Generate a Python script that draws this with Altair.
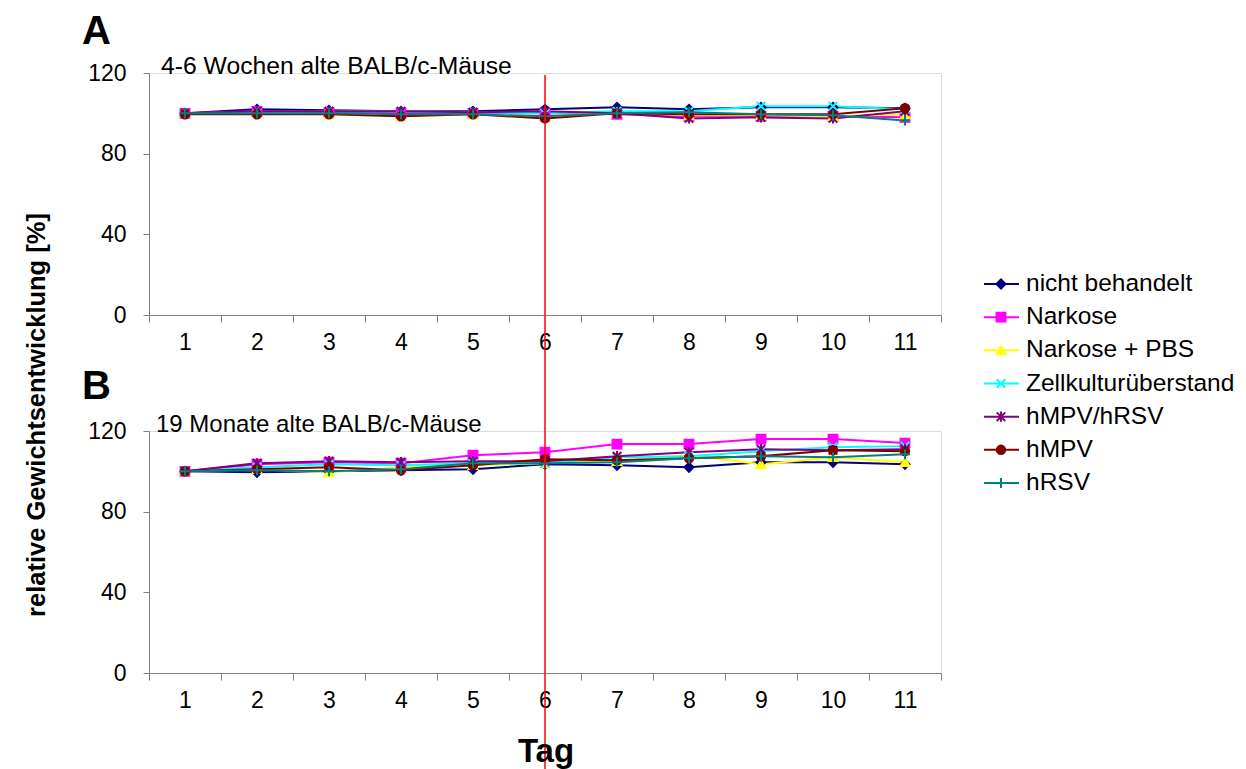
import altair as alt
import pandas as pd

# Körpergewicht relativ zu Tag 1 (%), je Behandlungsgruppe
tage = list(range(1, 12))
gruppen = ["nicht behandelt", "Narkose", "Narkose + PBS", "Zellkulturüberstand",
           "hMPV/hRSV", "hMPV", "hRSV"]
farben = ["#000080", "#FF00FF", "#FFFF00", "#00FFFF", "#800080", "#800000", "#008080"]
formen = ["diamond", "square", "triangle-up",
          "M-1,-1L1,1M-1,1L1,-1",
          "M-1,-1L1,1M-1,1L1,-1M0,-1.2L0,1.2",
          "circle",
          "M-1.2,0L1.2,0M0,-1.2L0,1.2"]
groessen = [80, 70, 80, 64, 64, 120, 80]

# A: 4-6 Wochen alte Mäuse
a_nicht_behandelt = [100, 102, 101.5, 101, 101, 102, 103, 102, 103, 103, 102.5]
a_narkose = [100, 101, 100.5, 100, 100, 100, 99.5, 98.5, 98.5, 98.5, 98]
a_narkose_pbs = [100, 100, 99.5, 98.5, 99.5, 98.5, 100.5, 99, 99, 98.5, 99.5]
a_zellkultur = [100, 100.5, 101, 101, 100.5, 100, 101, 101, 103.5, 103.5, 102]
a_hmpv_hrsv = [100, 101, 101, 101, 100.5, 101, 100, 97.5, 98, 97.5, 101]
a_hmpv = [99.5, 99.5, 99.5, 98.5, 99.5, 97.5, 100, 99.5, 99.5, 99.5, 102.5]
a_hrsv = [100, 100, 100, 99.5, 99.5, 98.5, 100, 100.5, 99.5, 99, 96.5]

# B: 19 Monate alte Mäuse
b_nicht_behandelt = [100, 99.5, 100, 100.5, 101, 103.5, 103, 102, 104.5, 104.5, 103.5]
b_narkose = [100, 103.5, 104.5, 104, 108, 109.5, 113.5, 113.5, 116, 116, 114]
b_narkose_pbs = [100, 101, 99.5, 102, 103, 104, 105, 108, 103.5, 107, 104.5]
b_zellkultur = [100, 102, 103.5, 103, 104, 104, 107, 107.5, 110, 112, 112.5]
b_hmpv_hrsv = [100, 104, 105, 104.5, 105, 105, 107.5, 109.5, 111, 110.5, 111]
b_hmpv = [100, 101, 102, 100.5, 103, 106, 105.5, 106.5, 107.5, 110.5, 110]
b_hrsv = [100, 100.5, 100, 101, 104, 104, 104.5, 106.5, 107.5, 107, 108.5]

serien_a = [a_nicht_behandelt, a_narkose, a_narkose_pbs, a_zellkultur, a_hmpv_hrsv, a_hmpv, a_hrsv]
serien_b = [b_nicht_behandelt, b_narkose, b_narkose_pbs, b_zellkultur, b_hmpv_hrsv, b_hmpv, b_hrsv]


def lang(serien):
    rows = []
    for i, (name, werte) in enumerate(zip(gruppen, serien)):
        for t, w in zip(tage, werte):
            rows.append({"Tag": t, "Wert": w, "Gruppe": name, "ord": i})
    return pd.DataFrame(rows)


FONT = "Liberation Sans"
W, H = 792, 242

farbe = alt.Color("Gruppe:N", scale=alt.Scale(domain=gruppen, range=farben), legend=None)
rand = alt.Stroke("Gruppe:N", scale=alt.Scale(domain=gruppen, range=farben), legend=None)
form = alt.Shape("Gruppe:N", scale=alt.Scale(domain=gruppen, range=formen), legend=None)
groesse = alt.Size("Gruppe:N", scale=alt.Scale(domain=gruppen, range=groessen), legend=None)

x_scale = alt.Scale(type="band", paddingInner=0, paddingOuter=0)
x_axis = alt.Axis(title=None, tickBand="extent", labelAngle=0, tickSize=7,
                  labelPadding=9, labelFontSize=23, labelFont=FONT,
                  labelColor="black", domainColor="#808080", tickColor="#808080",
                  grid=False)
x_enc = alt.X("Tag:O", bandPosition=0.5, scale=x_scale, axis=x_axis)
y_scale = alt.Scale(domain=[0, 120], nice=False, zero=True)
y_axis = alt.Axis(title=None, values=[0, 40, 80, 120], tickSize=6, labelPadding=17,
                  labelFontSize=23, labelFont=FONT, labelColor="black",
                  domainColor="#808080", tickColor="#808080", grid=False)


def panel(df, untertitel, buchstabe, extra=None):
    base = alt.Chart(df)
    linien = base.mark_line(strokeWidth=2).encode(
        x=x_enc,
        y=alt.Y("Wert:Q", scale=y_scale, axis=y_axis),
        color=farbe,
        detail="Gruppe:N",
        order="Tag:O",
    )
    punkte = base.mark_point(filled=True, opacity=1, strokeWidth=2).encode(
        x=x_enc,
        y=alt.Y("Wert:Q", scale=y_scale, axis=None),
        color=farbe,
        stroke=rand,
        shape=form,
        size=groesse,
        order="ord:Q",
    )
    titel = alt.Chart().mark_text(font=FONT, fontSize=untertitel[3], align="left",
                                  baseline="alphabetic", color="black").encode(
        x=alt.value(untertitel[1]), y=alt.value(untertitel[2]), text=alt.value(untertitel[0]))
    buch = alt.Chart().mark_text(font=FONT, fontSize=40, fontWeight="bold", align="left",
                                 baseline="alphabetic", color="black").encode(
        x=alt.value(buchstabe[1]), y=alt.value(buchstabe[2]), text=alt.value(buchstabe[0]))
    schichten = [linien, punkte, titel, buch] + (extra or [])
    return alt.layer(*schichten).resolve_scale(y="independent").properties(width=W, height=H)


# Ausrichtung der Gesamtgrafik (weiße Marke in der oberen linken Ecke)
anker = alt.Chart().mark_rule(color="white", strokeWidth=0.5).encode(
    x=alt.value(-147.75), x2=alt.value(-147.25), y=alt.value(-71.75))

y_titel = alt.Chart().mark_text(font=FONT, fontSize=25.5, fontWeight="bold", angle=270,
                                align="center", baseline="middle", color="black").encode(
    x=alt.value(-112), y=alt.value(342), text=alt.value("relative Gewichtsentwicklung [%]"))

panel_a = panel(lang(serien_a), ("4-6 Wochen alte BALB/c-Mäuse", 12, 1, 24.7), ("A", -67, -29),
                [anker, y_titel])

# Tag 6: senkrechte Markierung über beide Diagramme
markierung = alt.Chart().mark_rule(color="#FF0000", strokeWidth=1.5).encode(
    x=alt.XDatum(6, type="ordinal", bandPosition=0.5, scale=x_scale, axis=x_axis),
    y=alt.value(-356), y2=alt.value(345))

x_titel = alt.Chart().mark_text(font=FONT, fontSize=33, fontWeight="bold", align="center",
                                baseline="alphabetic", color="black").encode(
    x=alt.value(397), y=alt.value(331), text=alt.value("Tag"))

# Legende rechts neben den Diagrammen
leg_df = pd.DataFrame({"Gruppe": gruppen, "ord": list(range(len(gruppen)))})
leg_y = alt.Y("Gruppe:N", sort=gruppen,
              scale=alt.Scale(type="point", domain=gruppen, range=[-147, 52], padding=0),
              axis=None)
leg_base = alt.Chart(leg_df)
leg_linie = leg_base.mark_rule(strokeWidth=2).encode(
    x=alt.value(835), x2=alt.value(870), y=leg_y, color=farbe)
leg_punkt = leg_base.mark_point(filled=True, opacity=1, strokeWidth=2).encode(
    x=alt.value(852), y=leg_y, color=farbe, stroke=rand, shape=form, size=groesse)
leg_text = leg_base.mark_text(font=FONT, fontSize=24.5, align="left", baseline="middle",
                              color="black").encode(
    x=alt.value(877), y=leg_y, text="Gruppe:N")

panel_b = panel(lang(serien_b), ("19 Monate alte BALB/c-Mäuse", 7, 1, 24), ("B", -67, -32),
                [markierung, x_titel, leg_linie, leg_punkt, leg_text])

chart = alt.vconcat(panel_a, panel_b, spacing=116, bounds="flush").properties(
    padding=0
).configure_view(stroke=None).configure(background="white")

chart.save("out.html", embed_options={"renderer": "svg", "actions": False})
